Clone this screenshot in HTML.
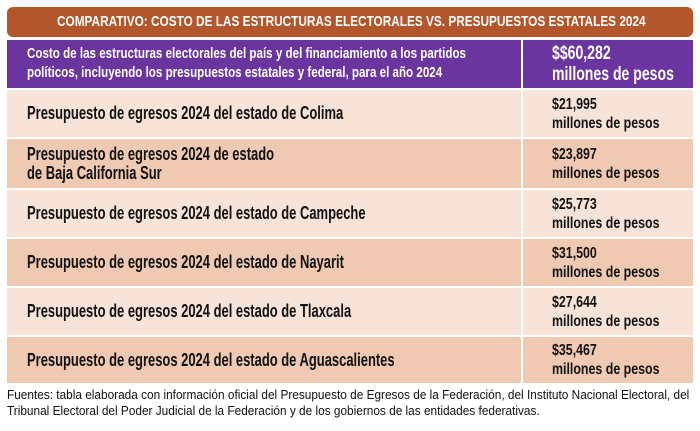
<!DOCTYPE html>
<html><head><meta charset="utf-8"><style>
*{margin:0;padding:0;box-sizing:border-box}
body{width:700px;height:431px;background:#fff;font-family:"Liberation Sans",sans-serif;position:relative;overflow:hidden}
.s{display:inline-block;white-space:nowrap;transform-origin:0 50%}
.hd{position:absolute;left:7px;top:7px;width:686px;height:30px;background:#b3562b;border-radius:6px;color:#fff;font-weight:bold;font-size:15px;line-height:30px;overflow:hidden}
.hd .s{position:absolute;left:50px;transform:scaleX(0.787)}
.row{position:absolute;left:7px;width:686px;display:flex}
.row>div{height:100%;display:flex;align-items:center}
.l{width:514px;padding-left:20px;font-weight:bold;font-size:18px;color:#111;line-height:19px}
.l .s{transform:scaleX(0.72)}
.r{width:170px;margin-left:2px;padding-left:29px;font-weight:bold;font-size:15.5px;color:#111;line-height:19px}
.r .s{transform:scaleX(0.8)}
.a{background:#f7e3d7}.b{background:#efc9b1}
.p{background:#6b35a0;color:#fff}
.foot{position:absolute;left:7px;top:387px;font-size:12.5px;line-height:16px;color:#111}
.foot .s{transform:scaleX(0.946)}
</style></head><body>
<div class="hd"><span class="s">COMPARATIVO: COSTO DE LAS ESTRUCTURAS ELECTORALES VS. PRESUPUESTOS ESTATALES 2024</span></div>
<div class="row" style="top:40px;height:48px"><div class="l p" style="font-size:14.5px;line-height:19px"><span class="s" style="transform:scaleX(0.8)">Costo de las estructuras electorales del país y del financiamiento  a los partidos<br>políticos, incluyendo los presupuestos estatales  y federal, para el año 2024</span></div><div class="r p" style="font-size:19px;line-height:21px;padding-left:29px"><span class="s" style="transform:scaleX(0.74)">$$60,282<br>millones de pesos</span></div></div>
<div class="row" style="top:90px;height:47px"><div class="l a"><span class="s">Presupuesto de egresos 2024 del estado de Colima</span></div><div class="r a"><span class="s">$21,995<br>millones de pesos</span></div></div>
<div class="row" style="top:139px;height:49px"><div class="l b"><span class="s">Presupuesto de egresos 2024 de estado<br>de Baja California Sur</span></div><div class="r b"><span class="s">$23,897<br>millones de pesos</span></div></div>
<div class="row" style="top:190px;height:47px"><div class="l a"><span class="s">Presupuesto de egresos 2024 del estado de Campeche</span></div><div class="r a"><span class="s">$25,773<br>millones de pesos</span></div></div>
<div class="row" style="top:239px;height:47px"><div class="l b"><span class="s">Presupuesto de egresos 2024 del estado de Nayarit</span></div><div class="r b"><span class="s">$31,500<br>millones de pesos</span></div></div>
<div class="row" style="top:288px;height:47px"><div class="l a"><span class="s">Presupuesto de egresos 2024 del estado de Tlaxcala</span></div><div class="r a"><span class="s">$27,644<br>millones de pesos</span></div></div>
<div class="row" style="top:337px;height:46px"><div class="l b"><span class="s">Presupuesto de egresos 2024 del estado de Aguascalientes</span></div><div class="r b"><span class="s">$35,467<br>millones de pesos</span></div></div>
<div class="foot"><span class="s">Fuentes: tabla elaborada con información oficial del Presupuesto de Egresos de la Federación, del Instituto Nacional Electoral, del<br>Tribunal Electoral del Poder Judicial de la Federación y de los gobiernos de las entidades federativas.</span></div>
</body></html>
